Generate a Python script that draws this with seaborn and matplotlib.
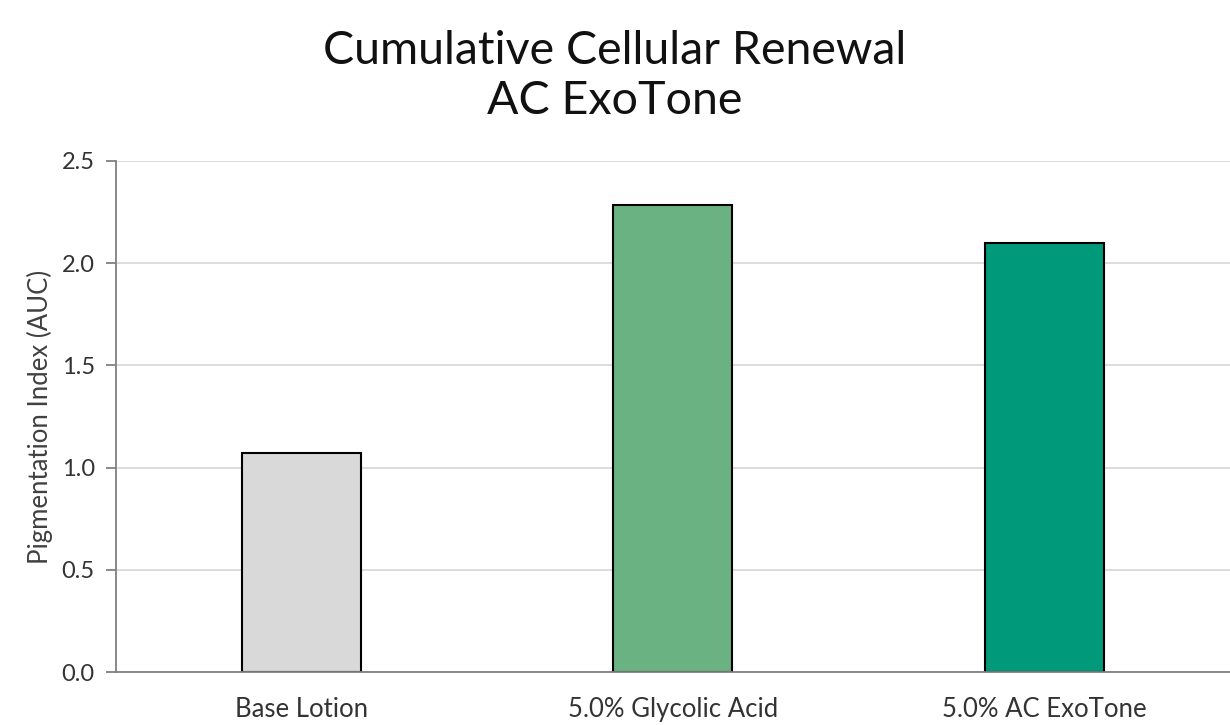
import pandas as pd
import matplotlib
matplotlib.use('Agg')
import matplotlib.pyplot as plt
import seaborn as sns

# Chart data
treatments = ['Base Lotion', '5.0% Glycolic Acid', '5.0% AC ExoTone']
pigmentation_auc = [1.073, 2.286, 2.097]
bar_colors = ['#D9D9D9', '#6BB282', '#00997A']

df = pd.DataFrame({'Treatment': treatments, 'AUC': pigmentation_auc})

sns.set_theme(style='white')
plt.rcParams['font.family'] = ['Lato', 'DejaVu Sans']

fig, ax = plt.subplots(figsize=(12.3, 7.25), dpi=100)
sns.barplot(data=df, x='Treatment', y='AUC', hue='Treatment', palette=bar_colors,
            saturation=1, legend=False, width=0.32, edgecolor='black',
            linewidth=1.5, ax=ax)

ax.set_ylim(0, 2.5)
ax.set_xlim(-0.5, 2.5)
ax.set_yticks([0, 0.5, 1.0, 1.5, 2.0, 2.5])
ax.set_yticklabels(['0.0', '0.5', '1.0', '1.5', '2.0', '2.5'])
ax.yaxis.grid(True, color='#D9D9D9', linewidth=1.3)
ax.set_axisbelow(True)

for s in ['top', 'right']:
    ax.spines[s].set_visible(False)
ax.spines['left'].set_color('#808080')
ax.spines['bottom'].set_color('#808080')
ax.spines['left'].set_linewidth(1.3)
ax.spines['bottom'].set_linewidth(1.3)

ax.tick_params(axis='y', left=True, length=7, width=1.3, color='#808080',
               labelsize=17, labelcolor='#333333', pad=8)
ax.tick_params(axis='x', bottom=False, labelsize=18.5, labelcolor='#333333', pad=12)

ax.set_xlabel('')
ax.set_ylabel('Pigmentation Index (AUC)', fontsize=18.5, color='#404040', labelpad=6)
fig.suptitle('Cumulative Cellular Renewal\nAC ExoTone', fontsize=33.5, color='#111111',
             linespacing=1.22, x=0.5, y=0.958, va='top')

plt.subplots_adjust(left=0.094, right=1.0, top=0.778, bottom=0.073)
plt.savefig('out.png')
